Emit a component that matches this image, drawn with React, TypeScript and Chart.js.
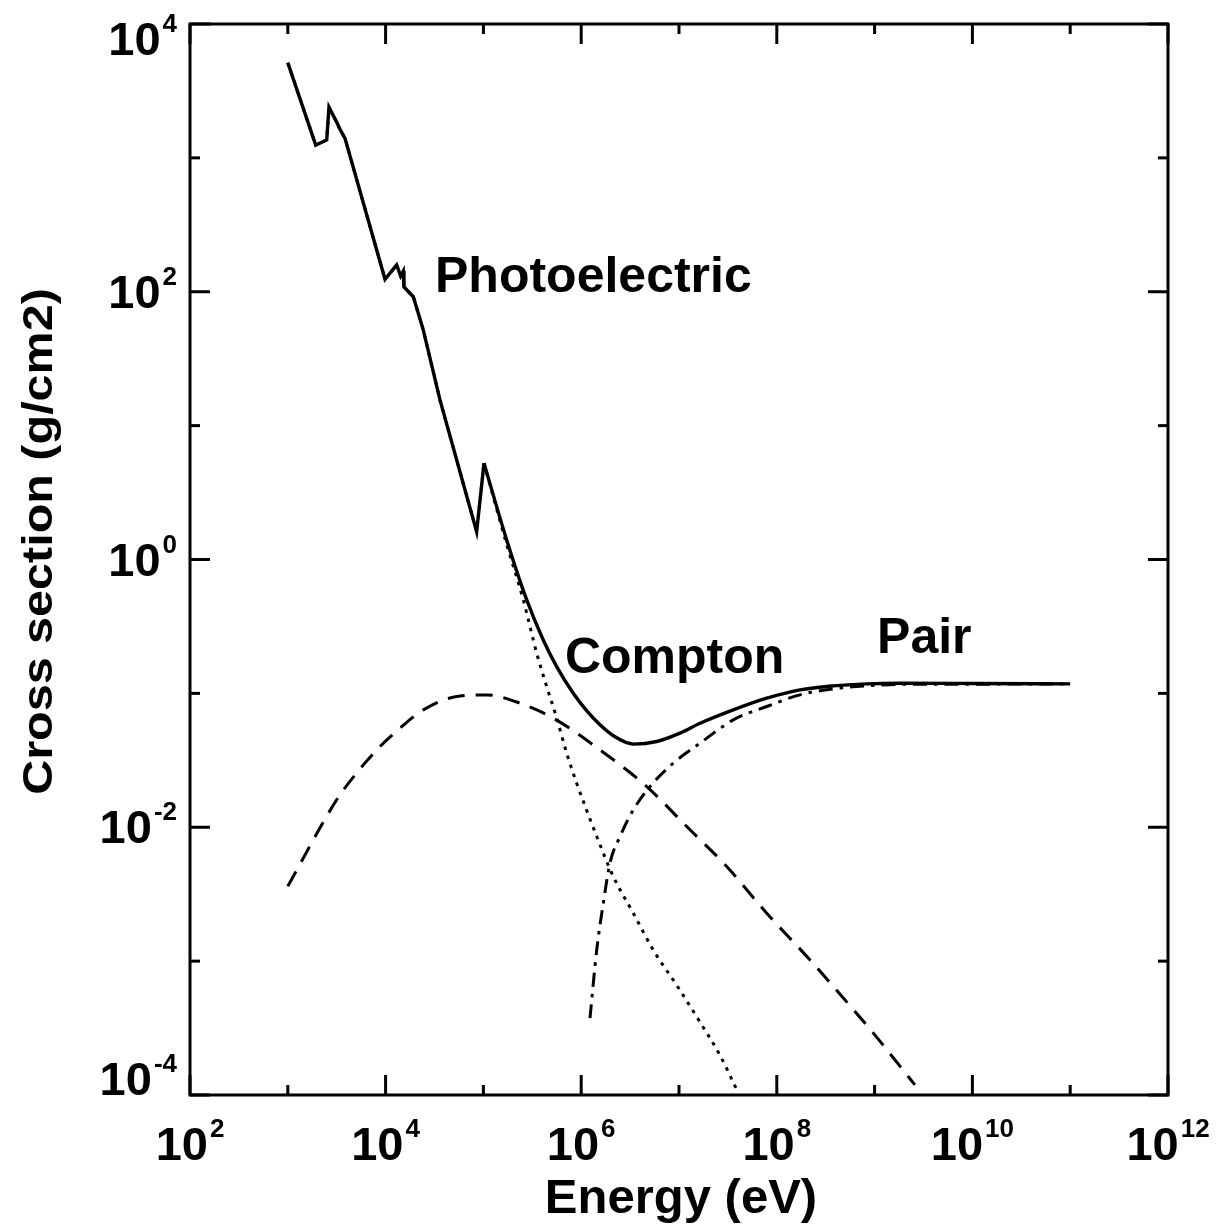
import { useEffect, useRef } from 'react';
import { Chart, registerables } from 'chart.js';

Chart.register(...registerables);

// ---- data (energy in eV, cross section in cm^2/g) ----
const totalEnergy = [
  1000, 1930, 2500, 2636, 3206, 3365, 3846, 9863, 12970, 14260, 15170, 15410,
  19190, 24270, 35970, 85310, 101400, 173000, 277300, 409300, 561000, 829800,
  1.119e6, 1.556e6, 2.213e6, 3.412e6, 5.916e6, 1.023e7, 1.641e7, 3.589e7, 7.889e7,
  1.726e8, 3.784e8, 8.299e8, 1.82e9, 1e10, 1e11,
];
const totalSigma = [
  5140, 1247, 1361, 2388, 1811, 1671, 1400, 123.9, 158.5, 131.2, 142.9, 108.6,
  91.8, 51.9, 15.56, 1.614, 5.236, 1.4, 0.4989, 0.2506, 0.1585, 0.1002,
  0.0753, 0.0583, 0.0474, 0.0418, 0.0437, 0.0505, 0.0598, 0.0753, 0.092,
  0.1062, 0.1138, 0.1178, 0.1191, 0.1186, 0.1178,
];

const photoEnergy = [
  1000, 1930, 2500, 2636, 3206, 3365, 3846, 9863, 12970, 14260, 15170, 15410,
  19190, 24270, 35970, 85310, 101400, 170200, 255900, 350800, 443600, 561000,
  711200, 899500, 1.442e6, 2.128e6, 3.412e6, 5.458e6, 9.484e6, 1.641e7,
  2.624e7, 3.89e7,
];
const photoSigma = [
  5140, 1247, 1361, 2388, 1811, 1671, 1400, 123.9, 158.5, 131.2, 142.9, 108.6,
  91.8, 51.9, 15.56, 1.614, 5.236, 1.352, 0.499, 0.1995, 0.1125, 0.0656,
  0.0357, 0.02133, 0.00853, 0.00429, 0.00228, 0.00121, 6.6e-4, 3.5e-4,
  1.98e-4, 1.1e-4,
];

const comptonEnergy = [
  1000, 3162, 4870, 8770, 14030, 24270, 57680, 108100, 236600, 518800,
  1.556e6, 4.677e6, 1.2e7, 3.076e7, 7.889e7, 2.188e8, 3.784e8, 9.705e8,
  2.582e9,
];
const comptonSigma = [
  0.00363, 0.01603, 0.0246, 0.0401, 0.055, 0.0753, 0.0957, 0.0973, 0.0845, 0.0653,
  0.03784, 0.02014, 0.01012, 0.00509, 0.00228, 0.00102, 6.46e-4, 2.9e-4,
  1.19e-4,
];

const pairEnergy = [
  1.23e6, 1.442e6, 1.683e6, 1.968e6, 2.495e6, 3.412e6, 5.047e6, 8.75e6,
  1.641e7, 3.589e7, 7.889e7, 1.726e8, 3.758e8, 8.318e8, 1.82e9, 1e10, 1e11,
];
const pairSigma = [
  3.75e-4, 1.216e-3, 2.71e-3, 5.4e-3, 8.53e-3, 0.01349, 0.02014, 0.03013,
  0.04246, 0.06339, 0.0798, 0.0975, 0.1081, 0.1138, 0.1167, 0.1172, 0.1175,
];

// index of the K-edge peak: absorption-edge part (straight segments) before, smooth part after
const kEdgeIndex = 16;

const xTickExponents = [2, 3, 4, 5, 6, 7, 8, 9, 10, 11, 12];
const yTickExponents = [-4, -3, -2, -1, 0, 1, 2, 3, 4];
const xTitle = 'Energy (eV)';
const yTitle = 'Cross section (g/cm2)';
const labelTexts = ['Photoelectric', 'Compton', 'Pair'];
const labelEnergy = [3.2e4, 6.82e5, 1.06e9];
const labelSigma = [100, 0.1422, 0.201];

const FONT = '"Liberation Sans", Arial, Helvetica, sans-serif';

function toPoints(xs: number[], ys: number[], from = 0, to = xs.length) {
  const out: { x: number; y: number }[] = [];
  for (let i = from; i < to; i++) out.push({ x: xs[i], y: ys[i] });
  return out;
}

const framePlugin = {
  id: 'frameAndText',
  afterDatasetsDraw(chart: any) {
    const { ctx, chartArea: a, scales } = chart;
    const xs = scales.x;
    const ys = scales.y;
    ctx.save();
    ctx.strokeStyle = '#000';
    ctx.fillStyle = '#000';
    ctx.lineWidth = 3;
    ctx.setLineDash([]);
    ctx.lineCap = 'square';
    ctx.strokeRect(a.left, a.top, a.right - a.left, a.bottom - a.top);
    ctx.lineCap = 'butt';
    const seg = (x1: number, y1: number, x2: number, y2: number) => {
      ctx.beginPath();
      ctx.moveTo(x1, y1);
      ctx.lineTo(x2, y2);
      ctx.stroke();
    };
    for (const e of xTickExponents) {
      const px = xs.getPixelForValue(Math.pow(10, e));
      const len = e % 2 === 0 ? 20 : 10;
      seg(px, a.bottom, px, a.bottom - len);
      seg(px, a.top, px, a.top + len);
    }
    for (const e of yTickExponents) {
      const py = ys.getPixelForValue(Math.pow(10, e));
      const len = e % 2 === 0 ? 20 : 10;
      seg(a.left, py, a.left + len, py);
      seg(a.right, py, a.right - len, py);
    }

    const mainFont = `bold 47px ${FONT}`;
    const expFont = `bold 26px ${FONT}`;
    const gap = 2;
    const drawPow = (e: number, startX: number, baseline: number) => {
      ctx.textAlign = 'left';
      ctx.textBaseline = 'alphabetic';
      ctx.font = mainFont;
      const w1 = ctx.measureText('10').width;
      ctx.fillText('10', startX, baseline);
      ctx.font = expFont;
      ctx.fillText(String(e), startX + w1 + gap, baseline - 23);
    };
    const powWidth = (e: number) => {
      ctx.font = mainFont;
      const w1 = ctx.measureText('10').width;
      ctx.font = expFont;
      const w2 = ctx.measureText(String(e)).width;
      return w1 + gap + w2;
    };
    for (const e of xTickExponents) {
      if (e % 2 !== 0) continue;
      const px = xs.getPixelForValue(Math.pow(10, e));
      const w = powWidth(e);
      drawPow(e, px - w / 2, a.bottom + 65);
    }
    for (const e of yTickExponents) {
      if (e % 2 !== 0) continue;
      const py = ys.getPixelForValue(Math.pow(10, e));
      const w = powWidth(e);
      const baseline = Math.min(Math.max(py + 16, a.top + 31), a.bottom);
      drawPow(e, a.left - 13 - w, baseline);
    }

    // axis titles
    ctx.font = `bold 49px ${FONT}`;
    ctx.textAlign = 'center';
    ctx.textBaseline = 'alphabetic';
    ctx.fillText(xTitle, (a.left + a.right) / 2 + 2, a.bottom + 118);

    ctx.save();
    ctx.translate(52, (a.top + a.bottom) / 2 - 18);
    ctx.rotate(-Math.PI / 2);
    ctx.scale(1, 0.86);
    ctx.font = `bold 48.5px ${FONT}`;
    ctx.fillText(yTitle, 0, 0);
    ctx.restore();

    // curve labels
    ctx.font = `bold 50px ${FONT}`;
    ctx.textAlign = 'left';
    labelTexts.forEach((t, i) => {
      const px = xs.getPixelForValue(labelEnergy[i]);
      const py = ys.getPixelForValue(labelSigma[i]);
      ctx.fillText(t, px, py);
    });
    ctx.restore();
  },
};

export default function App() {
  const canvasRef = useRef<HTMLCanvasElement | null>(null);

  useEffect(() => {
    const canvas = canvasRef.current;
    if (!canvas) return;
    const straight = {
      borderColor: '#000',
      borderWidth: 3,
      pointRadius: 0,
      fill: false,
      tension: 0,
      borderJoinStyle: 'miter' as const,
    };
    const smooth = {
      borderColor: '#000',
      borderWidth: 3,
      pointRadius: 0,
      fill: false,
      cubicInterpolationMode: 'monotone' as const,
    };
    const chart = new Chart(canvas, {
      type: 'line',
      data: {
        datasets: [
          { ...straight, label: 'Total (edges)', data: toPoints(totalEnergy, totalSigma, 0, kEdgeIndex + 1), borderWidth: 3.4 },
          { ...smooth, label: 'Total', data: toPoints(totalEnergy, totalSigma, kEdgeIndex), borderWidth: 3.4 },
          { ...straight, label: 'Photoelectric (edges)', data: toPoints(photoEnergy, photoSigma, 0, kEdgeIndex + 1), borderDash: [3.5, 6] },
          { ...smooth, label: 'Photoelectric', data: toPoints(photoEnergy, photoSigma, kEdgeIndex), borderDash: [3.5, 6] },
          { ...smooth, label: 'Compton', data: toPoints(comptonEnergy, comptonSigma), borderDash: [17, 11] },
          { ...smooth, label: 'Pair', data: toPoints(pairEnergy, pairSigma), borderDash: [14, 7, 3.5, 7] },
        ],
      },
      options: {
        responsive: false,
        maintainAspectRatio: false,
        devicePixelRatio: 1,
        animation: false,
        layout: { padding: { left: 190, top: 24, right: 50, bottom: 132 } },
        plugins: { legend: { display: false }, tooltip: { enabled: false } },
        scales: {
          x: { type: 'logarithmic', min: 1e2, max: 1e12, display: false },
          y: { type: 'logarithmic', min: 1e-4, max: 1e4, display: false },
        },
      },
      plugins: [framePlugin],
    });
    return () => chart.destroy();
  }, []);

  return (
    <div style={{ position: 'absolute', left: 0, top: 0, width: 1218, height: 1227, background: '#fff' }}>
      <canvas ref={canvasRef} width={1218} height={1227} style={{ display: 'block' }} />
    </div>
  );
}
